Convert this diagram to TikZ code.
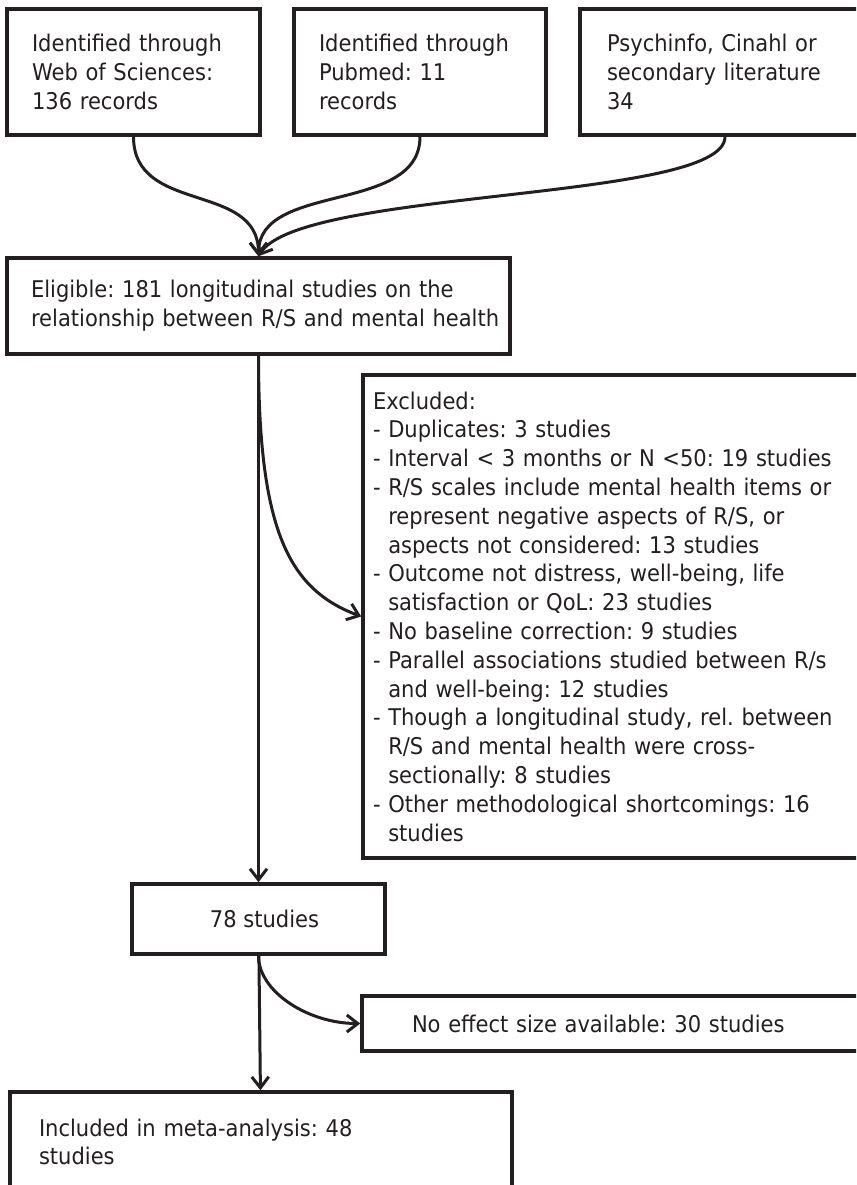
\documentclass[tikz,border=0pt]{standalone}
\usepackage{fontspec}
\setmainfont{DejaVu Sans}[FakeStretch=0.915]
\usepackage{tikz}
\usetikzlibrary{arrows.meta}
\definecolor{ink}{HTML}{231F20}
\newcommand\cont{\hphantom{-~}}
\tikzstyle{box}=[draw=ink, line width=3.5pt, rectangle, text=ink, align=left, inner ysep=0pt, font=\fontsize{23}{28.8}\selectfont]
\tikzstyle{flow}=[draw=ink, line width=3pt, -{Straight Barb[length=11pt,width=17pt]}]

\begin{document}
\frenchspacing
\begin{tikzpicture}[x=1pt,y=-1pt]
	\useasboundingbox (0,0) rectangle (856,1185);
	\clip (0,0) rectangle (856,1185);
	\node[box, text width=203pt, inner xsep=25pt, minimum height=126pt] (web) at (133.5,72) {Identified through\\Web of Sciences:\\136 records};
	\node[box, text width=202pt, inner xsep=25pt, minimum height=126pt] (pubmed) at (420,72) {Identified through\\Pubmed: 11\\records};
	\node[box, text width=236pt, inner xsep=27pt, minimum height=126pt] (psych) at (725,72) {Psychinfo, Cinahl or\\secondary literature\\34};
	\node[box, text width=455pt, inner xsep=24pt, minimum height=96pt] (elig) at (258.5,306) {\mbox{Eligible: 181 longitudinal studies on the}\\\mbox{relationship between R/S and mental health}};
	\node[box, text width=577pt, inner xsep=10pt, minimum height=483pt] (excl) at (661.5,616.5) {Excluded:\\
		- Duplicates: 3 studies\\
		- Interval < 3 months or N <50: 19 studies\\
		- R/S scales include mental health items or\\
		\cont represent negative aspects of R/S, or\\
		\cont aspects not considered: 13 studies\\
		- Outcome not distress, well-being, life\\
		\cont satisfaction or QoL: 23 studies\\
		- No baseline correction: 9 studies\\
		- Parallel associations studied between R/s\\
		\cont and well-being: 12 studies\\
		- Though a longitudinal study, rel. between\\
		\cont R/S and mental health were cross-\\
		\cont sectionally: 8 studies\\
		- Other methodological shortcomings: 16\\
		\cont studies};
	\node[box, align=center, minimum width=253pt, minimum height=70pt] (s78) at (258.5,919) {\hspace*{12pt}78 studies};
	\node[box, text width=498pt, inner xsep=50pt, minimum height=55pt] (noeff) at (661,1023.5) {No effect size available: 30 studies};
	\node[box, text width=444pt, inner xsep=29pt, minimum height=100pt] (incl) at (261,1142) {Included in meta-analysis: 48\\studies};
	\draw[flow] (web.south) .. controls +(0,78) and +(0,-75) .. (elig.north);
	\draw[flow] (pubmed.south) .. controls +(0,78) and +(0,-75) .. (elig.north);
	\draw[flow] (psych.south) .. controls +(0,65) and +(42,-68) .. (elig.north);
	\draw[flow] (elig.south) .. controls +(0,176) and +(-72,-27) .. (excl.west);
	\draw[flow] (elig) -- (s78);
	\draw[flow] (s78.south) .. controls +(0,36) and +(-52,0) .. (noeff.west);
	\draw[flow] (s78) -- (incl);
\end{tikzpicture}
\end{document}
